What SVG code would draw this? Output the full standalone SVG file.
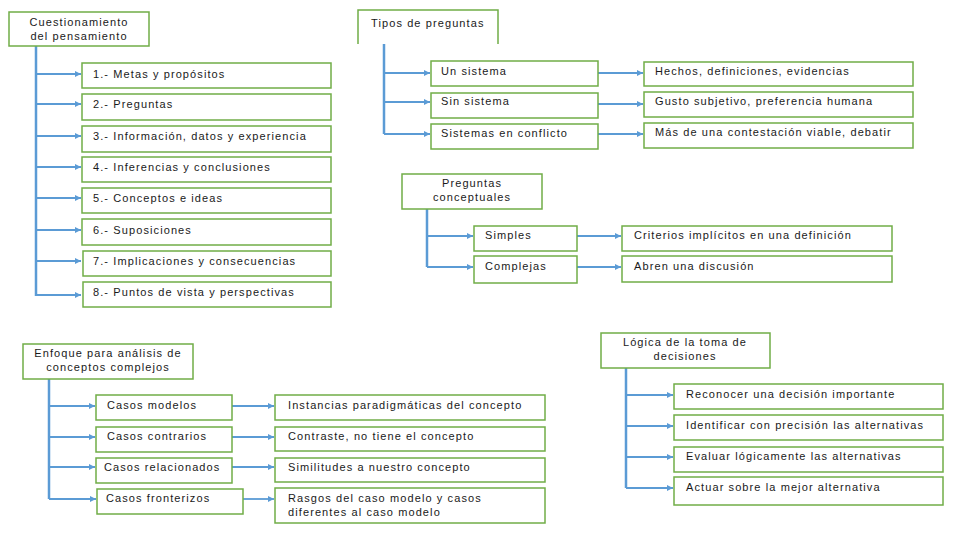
<svg xmlns="http://www.w3.org/2000/svg" width="960" height="540" viewBox="0 0 960 540">
<defs>
<style>
.box{fill:#fff;stroke:#70AD47;stroke-width:1.5}
.t{font-family:"Liberation Sans","Open Sans",sans-serif;font-size:11px;letter-spacing:1.1px;fill:#1a1a1a}
.v{fill:none;stroke:#5B9BD5;stroke-width:2.5}
.a{fill:none;stroke:#5B9BD5;stroke-width:1.8;marker-end:url(#ah)}
</style>
<marker id="ah" viewBox="0 0 10 10" refX="10" refY="5" markerWidth="7" markerHeight="6" markerUnits="userSpaceOnUse" orient="auto">
<path d="M0,0 L10,5 L0,10 z" fill="#5B9BD5"/>
</marker>
</defs>
<rect width="960" height="540" fill="#fff"/>

<g id="connectors">
<!-- block 1 -->
<path class="v" d="M36,46 V296"/>
<path class="a" d="M36,74 H81"/>
<path class="a" d="M36,104 H81"/>
<path class="a" d="M36,136 H81"/>
<path class="a" d="M36,167 H81"/>
<path class="a" d="M36,198 H81"/>
<path class="a" d="M36,230 H81"/>
<path class="a" d="M36,261 H81"/>
<path class="a" d="M36,295 H81"/>
<!-- block 2 -->
<path class="v" d="M384,44 V134"/>
<path class="a" d="M384,73 H430"/>
<path class="a" d="M384,102 H430"/>
<path class="a" d="M384,134 H430"/>
<path class="a" d="M598,73 H643"/>
<path class="a" d="M598,104 H643"/>
<path class="a" d="M598,134 H643"/>
<!-- block 3 -->
<path class="v" d="M427,209 V267"/>
<path class="a" d="M427,236 H473"/>
<path class="a" d="M427,267 H473"/>
<path class="a" d="M577,236 H621"/>
<path class="a" d="M577,267 H621"/>
<!-- block 4 -->
<path class="v" d="M49,379 V499"/>
<path class="a" d="M49,406 H95"/>
<path class="a" d="M49,437 H95"/>
<path class="a" d="M49,467 H95"/>
<path class="a" d="M49,499 H96"/>
<path class="a" d="M232,406 H274"/>
<path class="a" d="M232,437 H274"/>
<path class="a" d="M232,467 H274"/>
<path class="a" d="M243,499 H274"/>
<!-- block 5 -->
<path class="v" d="M626,368 V488"/>
<path class="a" d="M626,395 H673"/>
<path class="a" d="M626,426 H673"/>
<path class="a" d="M626,457 H673"/>
<path class="a" d="M626,488 H673"/>
</g>

<!-- Block 1 -->
<g id="n-cuestionamiento"><rect class="box" x="9" y="12" width="140" height="34"/>
<text class="t" x="79" y="26" text-anchor="middle">Cuestionamiento</text>
<text class="t" x="79" y="40" text-anchor="middle">del pensamiento</text></g>
<g id="n-metas"><rect class="box" x="82" y="63" width="249" height="25"/><text class="t" x="93" y="78">1.- Metas y propósitos</text></g>
<g id="n-preguntas"><rect class="box" x="82" y="94" width="249" height="26"/><text class="t" x="93" y="108">2.- Preguntas</text></g>
<g id="n-informacion"><rect class="box" x="82" y="126" width="249" height="26"/><text class="t" x="93" y="140">3.- Información, datos y experiencia</text></g>
<g id="n-inferencias"><rect class="box" x="82" y="157" width="249" height="25"/><text class="t" x="93" y="171">4.- Inferencias y conclusiones</text></g>
<g id="n-conceptos"><rect class="box" x="82" y="188" width="249" height="25"/><text class="t" x="93" y="202">5.- Conceptos e ideas</text></g>
<g id="n-suposiciones"><rect class="box" x="82" y="219" width="249" height="26"/><text class="t" x="93" y="234">6.- Suposiciones</text></g>
<g id="n-implicaciones"><rect class="box" x="83" y="251" width="248" height="25"/><text class="t" x="93" y="265">7.- Implicaciones y consecuencias</text></g>
<g id="n-puntos"><rect class="box" x="83" y="282" width="248" height="25"/><text class="t" x="93" y="296">8.- Puntos de vista y perspectivas</text></g>

<!-- Block 2 -->
<g id="n-tipos"><path class="box" d="M358,44 V10 H498 V44"/><text class="t" x="371" y="27">Tipos de preguntas</text></g>
<g id="n-unsistema"><rect class="box" x="431" y="61" width="167" height="25"/><text class="t" x="441" y="75">Un sistema</text></g>
<g id="n-sinsistema"><rect class="box" x="431" y="93" width="167" height="25"/><text class="t" x="441" y="105">Sin sistema</text></g>
<g id="n-conflicto"><rect class="box" x="431" y="124" width="167" height="25"/><text class="t" x="441" y="137">Sistemas en conflicto</text></g>
<g id="n-hechos"><rect class="box" x="644" y="62" width="269" height="24"/><text class="t" x="655" y="75">Hechos, definiciones, evidencias</text></g>
<g id="n-gusto"><rect class="box" x="644" y="92" width="269" height="25"/><text class="t" x="655" y="105">Gusto subjetivo, preferencia humana</text></g>
<g id="n-mas"><rect class="box" x="644" y="123" width="269" height="25"/><text class="t" x="655" y="136">Más de una contestación viable, debatir</text></g>

<!-- Block 3 -->
<g id="n-pconceptuales"><rect class="box" x="402" y="174" width="140" height="35"/>
<text class="t" x="472" y="187" text-anchor="middle">Preguntas</text>
<text class="t" x="472" y="201" text-anchor="middle">conceptuales</text></g>
<g id="n-simples"><rect class="box" x="474" y="226" width="103" height="25"/><text class="t" x="485" y="239">Simples</text></g>
<g id="n-complejas"><rect class="box" x="474" y="256" width="103" height="27"/><text class="t" x="485" y="270">Complejas</text></g>
<g id="n-criterios"><rect class="box" x="622" y="226" width="270" height="25"/><text class="t" x="634" y="239">Criterios implícitos en una definición</text></g>
<g id="n-abren"><rect class="box" x="622" y="256" width="270" height="26"/><text class="t" x="634" y="270">Abren una discusión</text></g>

<!-- Block 4 -->
<g id="n-enfoque"><rect class="box" x="23" y="344" width="170" height="35"/>
<text class="t" x="108" y="357" text-anchor="middle">Enfoque para análisis de</text>
<text class="t" x="108" y="371" text-anchor="middle">conceptos complejos</text></g>
<g id="n-modelos"><rect class="box" x="96" y="395" width="136" height="25"/><text class="t" x="107" y="409">Casos modelos</text></g>
<g id="n-contrarios"><rect class="box" x="96" y="427" width="136" height="25"/><text class="t" x="107" y="440">Casos contrarios</text></g>
<g id="n-relacionados"><rect class="box" x="96" y="458" width="136" height="25"/><text class="t" x="104" y="471">Casos relacionados</text></g>
<g id="n-fronterizos"><rect class="box" x="97" y="489" width="146" height="25"/><text class="t" x="106" y="502">Casos fronterizos</text></g>
<g id="n-instancias"><rect class="box" x="275" y="395" width="270" height="25"/><text class="t" x="288" y="409">Instancias paradigmáticas del concepto</text></g>
<g id="n-contraste"><rect class="box" x="275" y="427" width="270" height="24"/><text class="t" x="288" y="440">Contraste, no tiene el concepto</text></g>
<g id="n-similitudes"><rect class="box" x="275" y="458" width="270" height="24"/><text class="t" x="288" y="471">Similitudes a nuestro concepto</text></g>
<g id="n-rasgos"><rect class="box" x="275" y="488" width="270" height="35"/>
<text class="t" x="288" y="502">Rasgos del caso modelo y casos</text>
<text class="t" x="288" y="516">diferentes al caso modelo</text></g>

<!-- Block 5 -->
<g id="n-logica"><rect class="box" x="601" y="333" width="169" height="35"/>
<text class="t" x="685" y="346" text-anchor="middle">Lógica de la toma de</text>
<text class="t" x="685" y="360" text-anchor="middle">decisiones</text></g>
<g id="n-reconocer"><rect class="box" x="674" y="384" width="269" height="25"/><text class="t" x="686" y="398">Reconocer una decisión importante</text></g>
<g id="n-identificar"><rect class="box" x="674" y="415" width="269" height="25"/><text class="t" x="686" y="429">Identificar con precisión las alternativas</text></g>
<g id="n-evaluar"><rect class="box" x="674" y="447" width="269" height="25"/><text class="t" x="686" y="460">Evaluar lógicamente las alternativas</text></g>
<g id="n-actuar"><rect class="box" x="674" y="477" width="269" height="28"/><text class="t" x="686" y="491">Actuar sobre la mejor alternativa</text></g>
</svg>
